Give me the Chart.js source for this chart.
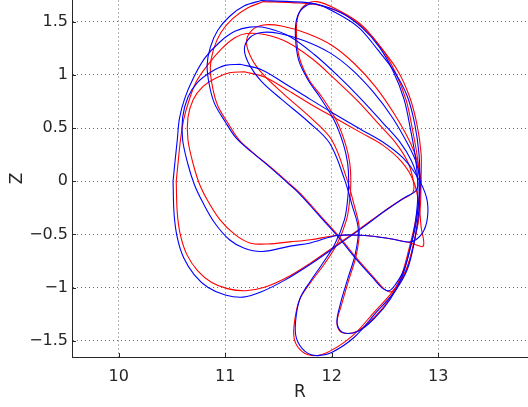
<!DOCTYPE html>
<html><head><meta charset="utf-8">
<script src="https://cdn.jsdelivr.net/npm/chart.js@4.4.0/dist/chart.umd.min.js"></script>
<style>html,body{margin:0;padding:0;background:#fff;overflow:hidden}</style>
</head><body>
<canvas id="c" width="528" height="407"></canvas>
<script>
// axis ticks and ranges
const xTicks = [10, 11, 12, 13];
const yTicks = [-1.5, -1, -0.5, 0, 0.5, 1, 1.5];
const xRange = [9.561, 13.844];
const yRange = [-1.653, 1.705];

// surface P
const pBlueR = [10.51,10.53,10.55,10.57,10.62,10.70,10.81,10.95,11.09,11.23,11.40,11.61,11.84,12.05,12.27,12.48,12.64,12.75,12.81,12.79,12.69,12.50,12.27,12.03,11.80,11.56,11.34,11.17,11.00,10.84,10.71,10.61,10.55,10.52];
const pBlueZ = [0.00,0.20,0.39,0.59,0.78,0.97,1.16,1.31,1.41,1.45,1.44,1.36,1.19,1.00,0.78,0.55,0.37,0.19,0.00,-0.09,-0.15,-0.28,-0.45,-0.62,-0.78,-0.93,-1.04,-1.09,-1.07,-1.00,-0.88,-0.72,-0.53,-0.31];
const pRedR = [10.54,10.56,10.58,10.61,10.66,10.73,10.84,10.97,11.09,11.20,11.37,11.58,11.82,12.03,12.25,12.45,12.61,12.72,12.77,12.76,12.66,12.48,12.26,12.03,11.80,11.57,11.36,11.19,11.02,10.87,10.74,10.64,10.58,10.55];
const pRedZ = [0.00,0.20,0.39,0.58,0.76,0.94,1.10,1.25,1.35,1.39,1.38,1.31,1.15,0.96,0.75,0.53,0.35,0.17,-0.02,-0.11,-0.17,-0.29,-0.45,-0.61,-0.77,-0.91,-1.00,-1.03,-1.01,-0.95,-0.84,-0.69,-0.51,-0.30];

// surface Q
const qBlueR = [11.14,11.34,11.56,11.80,12.03,12.27,12.48,12.67,12.80,12.89,12.90,12.85,12.74,12.55,12.31,12.05,11.80,11.61,11.35,11.18,11.04,10.90,10.79,10.71,10.65,10.60,10.60,10.65,10.74,10.87,11.00];
const qBlueZ = [1.10,1.05,0.92,0.77,0.63,0.49,0.37,0.22,0.05,-0.15,-0.34,-0.49,-0.57,-0.54,-0.51,-0.51,-0.58,-0.61,-0.66,-0.63,-0.55,-0.39,-0.20,-0.03,0.16,0.39,0.60,0.79,0.93,1.03,1.09];
const qRedR = [11.18,11.37,11.58,11.81,12.04,12.27,12.48,12.66,12.77,12.82,12.84,12.86,12.74,12.55,12.31,12.05,11.80,11.61,11.40,11.23,11.09,10.95,10.84,10.76,10.70,10.65,10.65,10.70,10.79,10.91,11.04];
const qRedZ = [1.03,0.98,0.86,0.72,0.59,0.46,0.34,0.18,0.00,-0.22,-0.43,-0.61,-0.58,-0.54,-0.51,-0.51,-0.55,-0.57,-0.59,-0.58,-0.50,-0.36,-0.19,-0.03,0.16,0.39,0.60,0.77,0.89,0.97,1.02];

// surface V (bean)
const vBlueR = [12.83,12.82,12.78,12.71,12.59,12.43,12.25,12.03,11.84,11.73,11.67,11.66,11.69,11.78,11.89,12.02,12.11,12.15,12.16,12.15,12.12,12.03,11.91,11.80,11.70,11.66,11.67,11.75,11.86,12.00,12.22,12.42,12.59,12.71,12.78,12.82];
const vBlueZ = [0.00,0.26,0.54,0.80,1.03,1.24,1.45,1.59,1.67,1.63,1.52,1.35,1.14,0.95,0.79,0.58,0.35,0.17,0.00,-0.17,-0.36,-0.59,-0.78,-0.94,-1.11,-1.33,-1.48,-1.60,-1.64,-1.61,-1.46,-1.23,-1.04,-0.83,-0.55,-0.27];
const vRedR = [12.84,12.84,12.80,12.73,12.62,12.46,12.28,12.06,11.86,11.74,11.68,11.67,11.70,11.79,11.91,12.04,12.13,12.17,12.18,12.17,12.14,12.05,11.93,11.81,11.70,11.65,11.65,11.72,11.83,11.98,12.20,12.40,12.57,12.70,12.78,12.83];
const vRedZ = [0.00,0.26,0.54,0.80,1.04,1.26,1.47,1.61,1.69,1.65,1.54,1.36,1.15,0.95,0.79,0.58,0.35,0.17,0.00,-0.17,-0.36,-0.59,-0.78,-0.94,-1.11,-1.33,-1.49,-1.60,-1.64,-1.60,-1.45,-1.23,-1.04,-0.83,-0.55,-0.27];

// surface S
const sBlueR = [11.34,11.61,11.84,12.08,12.28,12.45,12.58,12.68,12.74,12.79,12.81,12.79,12.74,12.68,12.60,12.54,12.47,12.38,12.22,12.05,11.87,11.70,11.58,11.40,11.23,11.10,11.00,10.90,10.85,10.83,10.86,10.93,11.04,11.18];
const sBlueZ = [1.70,1.69,1.67,1.59,1.45,1.26,1.03,0.77,0.49,0.20,-0.08,-0.36,-0.62,-0.83,-0.97,-1.03,-1.00,-0.90,-0.72,-0.51,-0.31,-0.12,-0.01,0.15,0.29,0.41,0.56,0.73,0.91,1.09,1.26,1.42,1.55,1.65];
const sRedR = [11.36,11.63,11.86,12.10,12.30,12.47,12.60,12.70,12.76,12.81,12.83,12.81,12.76,12.70,12.62,12.56,12.49,12.40,12.24,12.07,11.89,11.72,11.60,11.43,11.26,11.13,11.03,10.93,10.88,10.86,10.89,10.96,11.07,11.21];
const sRedZ = [1.69,1.68,1.66,1.58,1.44,1.25,1.02,0.76,0.48,0.19,-0.09,-0.37,-0.63,-0.84,-0.98,-1.04,-1.01,-0.91,-0.73,-0.52,-0.32,-0.13,-0.02,0.13,0.27,0.39,0.54,0.71,0.89,1.07,1.24,1.40,1.53,1.63];

// surface W
const wBlueR = [12.83,12.80,12.72,12.57,12.39,12.19,11.98,11.75,11.51,11.34,11.23,11.18,11.23,11.34,11.53,11.78,11.98,12.12,12.19,12.25,12.22,12.15,12.08,12.05,12.10,12.25,12.41,12.55,12.66,12.73,12.79,12.82];
const wBlueZ = [0.00,0.16,0.34,0.60,0.84,1.05,1.21,1.32,1.39,1.40,1.35,1.24,1.09,0.94,0.77,0.56,0.36,0.02,-0.22,-0.45,-0.69,-0.92,-1.16,-1.33,-1.42,-1.41,-1.28,-1.11,-0.90,-0.66,-0.41,-0.17];
const wRedR = [12.84,12.81,12.74,12.59,12.41,12.21,12.00,11.77,11.53,11.36,11.25,11.20,11.25,11.36,11.55,11.80,12.00,12.14,12.21,12.26,12.23,12.16,12.09,12.05,12.09,12.24,12.40,12.54,12.65,12.72,12.78,12.82];
const wRedZ = [0.00,0.17,0.36,0.63,0.89,1.11,1.28,1.39,1.46,1.47,1.42,1.31,1.15,1.00,0.82,0.60,0.39,0.03,-0.22,-0.45,-0.70,-0.93,-1.17,-1.33,-1.42,-1.41,-1.28,-1.11,-0.90,-0.66,-0.41,-0.17];

const BLUE = '#0000ff', RED = '#ff0000';
const closed = (R, Z) => R.map((r, i) => ({x: r, y: Z[i]})).concat([{x: R[0], y: Z[0]}]);
const ds = (R, Z, c) => ({data: closed(R, Z), borderColor: c, backgroundColor: c, borderWidth: 1.1,
  showLine: true, pointRadius: 0, pointHoverRadius: 0, tension: 0.35, fill: false});

const datasets = [
  ds(pBlueR, pBlueZ, BLUE), ds(qBlueR, qBlueZ, BLUE), ds(vBlueR, vBlueZ, BLUE), ds(sBlueR, sBlueZ, BLUE), ds(wBlueR, wBlueZ, BLUE),
  ds(pRedR, pRedZ, RED), ds(qRedR, qRedZ, RED), ds(vRedR, vRedZ, RED), ds(sRedR, sRedZ, RED), ds(wRedR, wRedZ, RED)
];

const fmt = v => { const s = String(Math.round(v * 10) / 10); return s.replace('-', '\u2212'); };
const FONT = {family: '"DejaVu Sans", "Liberation Sans", Arial, sans-serif', size: 16};
const TFONT = {family: '"DejaVu Sans", "Liberation Sans", Arial, sans-serif', size: 17};
const AX = '#262626';

const innerTicks = {
  id: 'innerTicks',
  afterDraw(chart) {
    const {ctx, chartArea: a, scales: {x, y}} = chart;
    ctx.save();
    ctx.strokeStyle = AX; ctx.lineWidth = 1;
    ctx.beginPath();
    xTicks.forEach(v => { const px = Math.round(x.getPixelForValue(v)) + 0.5; ctx.moveTo(px, a.bottom); ctx.lineTo(px, a.bottom - 4); });
    yTicks.forEach(v => { const py = Math.round(y.getPixelForValue(v)) + 0.5; ctx.moveTo(a.left, py); ctx.lineTo(a.left + 4, py); });
    ctx.stroke();
    ctx.restore();
  }
};

new Chart(document.getElementById('c'), {
  type: 'scatter',
  data: {datasets},
  plugins: [innerTicks],
  options: {
    responsive: false, animation: false, devicePixelRatio: 1,
    layout: {padding: 0},
    plugins: {legend: {display: false}, tooltip: {enabled: false}},
    scales: {
      x: {
        type: 'linear', min: xRange[0], max: xRange[1],
        afterBuildTicks: s => { s.ticks = xTicks.map(v => ({value: v})); },
        afterFit: s => { s.height = 50; s.paddingLeft = 0; s.paddingRight = 0; },
        ticks: {font: FONT, color: AX, padding: 10, maxRotation: 0, autoSkip: false, callback: v => fmt(v)},
        grid: {color: '#b4b4b4', lineWidth: 1, drawTicks: false},
        border: {display: true, color: AX, width: 1, dash: [2, 2]},
        title: {display: true, text: 'R', font: TFONT, color: AX, padding: {top: 0, bottom: 4}}
      },
      y: {
        type: 'linear', min: yRange[0], max: yRange[1],
        afterBuildTicks: s => { s.ticks = yTicks.map(v => ({value: v})); },
        afterFit: s => { s.width = 72; s.paddingTop = 0; s.paddingBottom = 0; },
        ticks: {font: FONT, color: AX, padding: 4, autoSkip: false, callback: v => fmt(v)},
        grid: {color: '#6e6e6e', lineWidth: 1, drawTicks: false},
        border: {display: true, color: AX, width: 1, dash: [1, 3]},
        title: {display: true, text: 'Z', font: TFONT, color: AX, padding: {top: 7, bottom: 0}}
      }
    }
  }
});
</script>
</body></html>
